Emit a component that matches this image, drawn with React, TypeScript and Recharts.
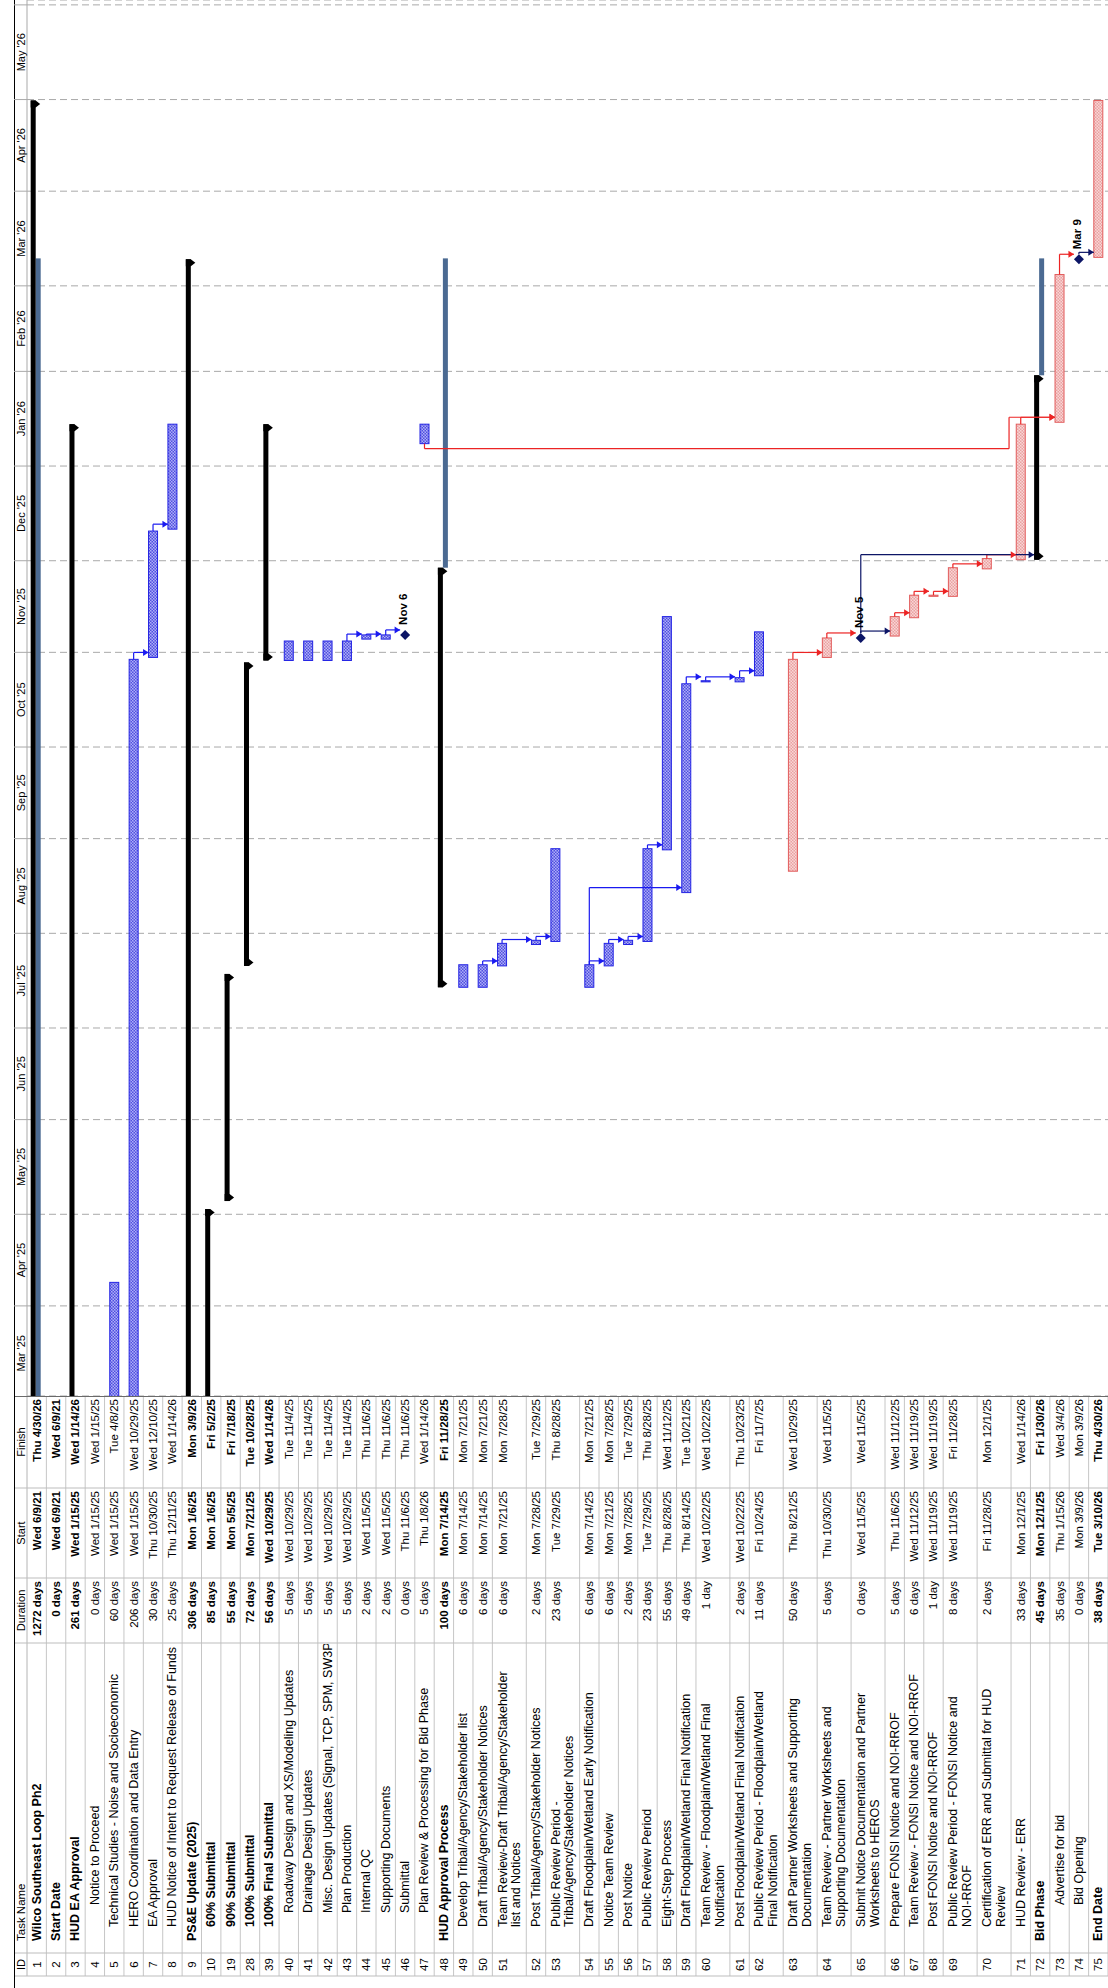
import React from "react";
import {
  ComposedChart,
  XAxis,
  YAxis,
  CartesianGrid,
  Scatter,
  ReferenceArea,
  ReferenceLine,
  ReferenceDot,
} from "recharts";

// ---- table rows (top to bottom) ----
const ROW_IDS = [
  1, 2, 3, 4, 5, 6, 7, 8, 9, 10, 19, 28, 39, 40, 41, 42, 43, 44, 45, 46, 47, 48,
  49, 50, 51, 52, 53, 54, 55, 56, 57, 58, 59, 60, 61, 62, 63, 64, 65, 66, 67, 68,
  69, 70, 71, 72, 73, 74, 75,
];

// "|" marks where the name wraps onto a second line
const TASK_NAMES = [
  "Wilco Southeast Loop Ph2",
  "Start Date",
  "HUD EA Approval",
  "Notice to Proceed",
  "Technical Studies - Noise and Socioeconomic",
  "HERO Coordination and Data Entry",
  "EA Approval",
  "HUD Notice of Intent to Request Release of Funds",
  "PS&E Update (2025)",
  "60% Submittal",
  "90% Submittal",
  "100% Submittal",
  "100% Final Submittal",
  "Roadway Design and XS/Modeling Updates",
  "Drainage Design Updates",
  "Misc. Design Updates (Signal, TCP, SPM, SW3P)",
  "Plan Production",
  "Internal QC",
  "Supporting Documents",
  "Submittal",
  "Plan Review & Processing for Bid Phase",
  "HUD Approval Process",
  "Develop Tribal/Agency/Stakeholder list",
  "Draft Tribal/Agency/Stakeholder Notices",
  "Team Review-Draft Tribal/Agency/Stakeholder|list and Notices",
  "Post Tribal/Agency/Stakeholder Notices",
  "Public Review Period -|Tribal/Agency/Stakeholder Notices",
  "Draft Floodplain/Wetland Early Notification",
  "Notice Team Review",
  "Post Notice",
  "Public Review Period",
  "Eight-Step Process",
  "Draft Floodplain/Wetland Final Notification",
  "Team Review - Floodplain/Wetland Final|Notification",
  "Post Floodplain/Wetland Final Notification",
  "Public Review Period - Floodplain/Wetland|Final Notification",
  "Draft Partner Worksheets and Supporting|Documentation",
  "Team Review - Partner Worksheets and|Supporting Documentation",
  "Submit Notice Documentation and Partner|Worksheets to HEROS",
  "Prepare FONSI Notice and NOI-RROF",
  "Team Review - FONSI Notice and NOI-RROF",
  "Post FONSI Notice and NOI-RROF",
  "Public Review Period - FONSI Notice and|NOI-RROF",
  "Certification of ERR and Submittal for HUD|Review",
  "HUD Review - ERR",
  "Bid Phase",
  "Advertise for bid",
  "Bid Opening",
  "End Date",
];

const DURATIONS = [
  "1272 days", "0 days", "261 days", "0 days", "60 days", "206 days", "30 days",
  "25 days", "306 days", "85 days", "55 days", "72 days", "56 days", "5 days",
  "5 days", "5 days", "5 days", "2 days", "2 days", "0 days", "5 days",
  "100 days", "6 days", "6 days", "6 days", "2 days", "23 days", "6 days",
  "6 days", "2 days", "23 days", "55 days", "49 days", "1 day", "2 days",
  "11 days", "50 days", "5 days", "0 days", "5 days", "6 days", "1 day",
  "8 days", "2 days", "33 days", "45 days", "35 days", "0 days", "38 days",
];

const STARTS = [
  "Wed 6/9/21", "Wed 6/9/21", "Wed 1/15/25", "Wed 1/15/25", "Wed 1/15/25",
  "Wed 1/15/25", "Thu 10/30/25", "Thu 12/11/25", "Mon 1/6/25", "Mon 1/6/25",
  "Mon 5/5/25", "Mon 7/21/25", "Wed 10/29/25", "Wed 10/29/25", "Wed 10/29/25",
  "Wed 10/29/25", "Wed 10/29/25", "Wed 11/5/25", "Wed 11/5/25", "Thu 11/6/25",
  "Thu 1/8/26", "Mon 7/14/25", "Mon 7/14/25", "Mon 7/14/25", "Mon 7/21/25",
  "Mon 7/28/25", "Tue 7/29/25", "Mon 7/14/25", "Mon 7/21/25", "Mon 7/28/25",
  "Tue 7/29/25", "Thu 8/28/25", "Thu 8/14/25", "Wed 10/22/25", "Wed 10/22/25",
  "Fri 10/24/25", "Thu 8/21/25", "Thu 10/30/25", "Wed 11/5/25", "Thu 11/6/25",
  "Wed 11/12/25", "Wed 11/19/25", "Wed 11/19/25", "Fri 11/28/25", "Mon 12/1/25",
  "Mon 12/1/25", "Thu 1/15/26", "Mon 3/9/26", "Tue 3/10/26",
];

const FINISHES = [
  "Thu 4/30/26", "Wed 6/9/21", "Wed 1/14/26", "Wed 1/15/25", "Tue 4/8/25",
  "Wed 10/29/25", "Wed 12/10/25", "Wed 1/14/26", "Mon 3/9/26", "Fri 5/2/25",
  "Fri 7/18/25", "Tue 10/28/25", "Wed 1/14/26", "Tue 11/4/25", "Tue 11/4/25",
  "Tue 11/4/25", "Tue 11/4/25", "Thu 11/6/25", "Thu 11/6/25", "Thu 11/6/25",
  "Wed 1/14/26", "Fri 11/28/25", "Mon 7/21/25", "Mon 7/21/25", "Mon 7/28/25",
  "Tue 7/29/25", "Thu 8/28/25", "Mon 7/21/25", "Mon 7/28/25", "Tue 7/29/25",
  "Thu 8/28/25", "Wed 11/12/25", "Tue 10/21/25", "Wed 10/22/25", "Thu 10/23/25",
  "Fri 11/7/25", "Wed 10/29/25", "Wed 11/5/25", "Wed 11/5/25", "Wed 11/12/25",
  "Wed 11/19/25", "Wed 11/19/25", "Fri 11/28/25", "Mon 12/1/25", "Wed 1/14/26",
  "Fri 1/30/26", "Wed 3/4/26", "Mon 3/9/26", "Thu 4/30/26",
];

const OUTLINE_LEVELS = [
  0, 0, 0, 1, 1, 1, 1, 1, 0, 1, 1, 1, 1, 2, 2, 2, 2, 2, 2, 2, 2, 0, 1, 1, 1, 1,
  1, 1, 1, 1, 1, 1, 1, 1, 1, 1, 1, 1, 1, 1, 1, 1, 1, 1, 1, 0, 1, 1, 0,
];
// rows whose names sit further in than their outline level
const EXTRA_INDENT_IDS = [4, 73, 74];

const SUMMARY_IDS = [1, 3, 9, 10, 19, 28, 39, 48, 72];
const MILESTONE_IDS = [2, 4, 46, 65, 74];
const CRITICAL_IDS = [63, 64, 66, 67, 68, 69, 70, 71, 73, 75];
const BOLD_IDS = [1, 2, 3, 9, 10, 19, 28, 39, 48, 72, 75];

// thin steel-blue bars drawn under three summaries
const BASELINE_IDS = [1, 48, 72];
const BASELINE_STARTS = ["Wed 6/9/21", "Fri 11/28/25", "Fri 1/30/26"];
const BASELINE_FINISH = "Mon 3/9/26";

const LABELED_MILESTONES = [46, 65, 74];
const MILESTONE_TEXT = ["Nov 6", "Nov 5", "Mar 9"];

const MONTH_LABELS = [
  "Mar '25", "Apr '25", "May '25", "Jun '25", "Jul '25", "Aug '25", "Sep '25",
  "Oct '25", "Nov '25", "Dec '25", "Jan '26", "Feb '26", "Mar '26", "Apr '26",
  "May '26",
];

// predecessor -> successor links
const BLUE_LINKS = [
  [6, 7], [7, 8], [43, 44], [44, 45], [45, 46], [50, 51], [51, 52], [52, 53],
  [54, 55], [55, 56], [56, 57], [57, 58], [54, 59], [59, 60], [60, 61], [61, 62],
];
const RED_LINKS = [
  [63, 64], [64, 65], [66, 67], [67, 68], [68, 69], [69, 70], [70, 71], [71, 73],
  [73, 74],
];
const NAVY_LINKS = [[65, 66], [65, 72], [74, 75]];
// the long red link leaves task 47 from its start and bends above task 71
const DETOUR_LINK = { from: 47, to: 73, bendRow: 71 };

// ---- layout ----
const FULL_W = 1988; // unrotated width
const FULL_H = 1108; // unrotated height
const TABLE_W = 592;
const TIME_W = FULL_W - TABLE_W;
const HEADER_TOP = 14;
const HEADER_H = 13;
const PLOT_TOP = HEADER_TOP + HEADER_H;
const FONT = "'Liberation Sans', Arial, sans-serif";
const NAME_FONT = 12.5;
const CELL_FONT = 11.5;

const COL_LEFT = 12;
const COL_ID = 35;
const COL_NAME = 345;
const COL_DUR = 410;
const COL_START = 500;
const NAME_X0 = 47;
const INDENT = 14;
const EXTRA_INDENT = 22;

const dayOf = (y: number, m: number, d: number) => Date.UTC(y, m - 1, d) / 86400000;
const parseDate = (s: string) => {
  const [m, d, y] = s.split(" ")[1].split("/").map(Number);
  return dayOf(2000 + y, m, d);
};

const DOMAIN_START = dayOf(2025, 3, 1) + 1.5;
const DOMAIN_END = dayOf(2026, 6, 1) + 1.6;
const PX_PER_DAY = TIME_W / (DOMAIN_END - DOMAIN_START);

const MONTH_STARTS = MONTH_LABELS.map((_, i) => dayOf(2025, 3 + i, 1)).concat([dayOf(2026, 6, 1)]);
const BOUNDARY_TICKS = MONTH_STARTS.slice(1);
const MID_TICKS = MONTH_LABELS.map((_, i) => (MONTH_STARTS[i] + MONTH_STARTS[i + 1]) / 2);

const LINES = TASK_NAMES.map((n) => n.split("|"));
const ROW_UNITS = LINES.map((l) => (l.length > 1 ? 1.75 : 1));
const ROW_TOPS: number[] = [];
let acc = 0;
ROW_UNITS.forEach((u) => {
  ROW_TOPS.push(acc);
  acc += u;
});
const TOTAL_UNITS = acc;
const PXU = (FULL_H - PLOT_TOP) / TOTAL_UNITS;
const px = (p: number) => p / PXU; // pixels -> row units
const rowMid = (i: number) => ROW_TOPS[i] + 0.5;
const idx = (id: number) => ROW_IDS.indexOf(id);

const barStart = (i: number) => parseDate(STARTS[i]) + 8 / 24;
const barEnd = (i: number) => parseDate(FINISHES[i]) + 17 / 24;
const dx = (p: number) => p / PX_PER_DAY; // pixels -> days

const BLUE = "#1a1af0";
const RED = "#ec2424";
const NAVY = "#0c1566";

// ---- shapes ----
const taskShape = (fill: string, stroke: string) => (p: any) => (
  <rect x={p.x} y={p.y} width={Math.max(p.width, 0.5)} height={p.height} fill={fill} stroke={stroke} strokeWidth={1} />
);

const summaryShape = (p: any) => {
  const { x, y, width: w, height: h } = p;
  const c = 7;
  const cap = (x0: number) =>
    `${x0},${y} ${x0 + c},${y} ${x0 + c},${y + h} ${x0 + c / 2},${y + h + 4.5} ${x0},${y + h}`;
  return (
    <g>
      <rect x={x} y={y} width={w} height={h} fill="#000" />
      <polygon points={cap(x)} fill="#000" />
      <polygon points={cap(x + w - c)} fill="#000" />
    </g>
  );
};

const baselineShape = (p: any) => <rect x={p.x} y={p.y} width={p.width} height={p.height} fill="#4b6a92" />;

const arrowShape = (color: string) => (p: any) => (
  <polygon points={`${p.cx - 3.5},${p.cy - 5.5} ${p.cx + 3.5},${p.cy - 5.5} ${p.cx},${p.cy}`} fill={color} />
);

const monthLabelShape = (text: string) => (p: any) => (
  <text x={p.cx} y={p.cy} textAnchor="middle" dominantBaseline="central" fontSize={11} fontFamily={FONT} fill="#000">
    {text}
  </text>
);

const diamondShape = (p: any) => {
  const { cx, cy, payload } = p;
  return (
    <g>
      <polygon points={`${cx},${cy - 5} ${cx + 5},${cy} ${cx},${cy + 5} ${cx - 5},${cy}`} fill={NAVY} />
      {payload.label ? (
        <text x={cx + 10} y={cy - 2} dominantBaseline="central" fontSize={11.5} fontWeight="bold" fontFamily={FONT} fill="#000">
          {payload.label}
        </text>
      ) : null}
    </g>
  );
};

// ---- link geometry, built from task dates and rows ----
type Pt = { x: number; y: number };
function succTop(s: number) {
  const is = idx(s);
  const sMile = MILESTONE_IDS.includes(s);
  const sSum = SUMMARY_IDS.includes(s);
  return rowMid(is) - px(sMile ? 5 : sSum ? 6 : 4.5);
}
function linkPath(p: number, s: number): Pt[] {
  const ip = idx(p);
  const is = idx(s);
  const pMile = MILESTONE_IDS.includes(p);
  const sMile = MILESTONE_IDS.includes(s);
  const pEnd = pMile ? barEnd(ip) + dx(5) : barEnd(ip);
  const sStart = sMile ? barEnd(is) : barStart(is);
  const ux = sStart + dx(5);
  const cp = rowMid(ip);
  const sTop = succTop(s);
  if (ux <= pEnd) return [{ x: ux, y: cp + px(4.5) }, { x: ux, y: sTop }];
  return [{ x: pEnd, y: cp }, { x: ux, y: cp }, { x: ux, y: sTop }];
}
function detourPath(): Pt[] {
  const ip = idx(DETOUR_LINK.from);
  const is = idx(DETOUR_LINK.to);
  const xa = barStart(ip);
  const xb = xa - dx(5);
  const bend = ROW_TOPS[idx(DETOUR_LINK.bendRow)] - px(2);
  const xc = barStart(is) + dx(5);
  const cp = rowMid(ip);
  return [
    { x: xa, y: cp },
    { x: xb, y: cp },
    { x: xb, y: bend },
    { x: xc, y: bend },
    { x: xc, y: succTop(DETOUR_LINK.to) },
  ];
}

function TaskTable() {
  const v = (u: number) => PLOT_TOP + u * PXU;
  const cols = [COL_LEFT, COL_ID, COL_NAME, COL_DUR, COL_START];
  const hy = HEADER_TOP + HEADER_H / 2;
  return (
    <svg width={TABLE_W} height={FULL_H} style={{ position: "absolute", left: 0, top: 0 }} fontFamily={FONT} fontSize={CELL_FONT}>
      <defs>
        <clipPath id="nameClip">
          <rect x={COL_ID} y={0} width={COL_NAME - COL_ID - 1} height={FULL_H} />
        </clipPath>
      </defs>
      <text x={(COL_LEFT + COL_ID) / 2} y={hy} textAnchor="middle" dominantBaseline="central" fontSize={11}>ID</text>
      <text x={NAME_X0} y={hy} dominantBaseline="central" fontSize={11.5}>Task Name</text>
      <text x={(COL_NAME + COL_DUR) / 2} y={hy} textAnchor="middle" dominantBaseline="central" fontSize={11}>Duration</text>
      <text x={(COL_DUR + COL_START) / 2} y={hy} textAnchor="middle" dominantBaseline="central" fontSize={11}>Start</text>
      <text x={(COL_START + TABLE_W) / 2} y={hy} textAnchor="middle" dominantBaseline="central" fontSize={11}>Finish</text>
      {ROW_IDS.map((id, i) => {
        const top = v(ROW_TOPS[i]);
        const y1 = top + PXU / 2 + (LINES[i].length > 1 ? 0.5 : 0);
        const bold = BOLD_IDS.includes(id) ? "bold" : "normal";
        const bottom = v(ROW_TOPS[i] + ROW_UNITS[i]);
        const nx = NAME_X0 + OUTLINE_LEVELS[i] * INDENT + (EXTRA_INDENT_IDS.includes(id) ? EXTRA_INDENT : 0);
        return (
          <g key={id} fontWeight={bold}>
            <line x1={COL_LEFT} x2={TABLE_W} y1={bottom} y2={bottom} stroke="#c6c6c6" />
            <text x={(COL_LEFT + COL_ID) / 2} y={y1} textAnchor="middle" dominantBaseline="central" fontWeight="normal">{id}</text>
            <g clipPath="url(#nameClip)" fontSize={NAME_FONT}>
              {LINES[i].map((t, k) => (
                <text key={k} x={nx} y={y1 + k * 13.6} dominantBaseline="central">{t}</text>
              ))}
            </g>
            <text x={COL_DUR - 3} y={y1} textAnchor="end" dominantBaseline="central">{DURATIONS[i]}</text>
            <text x={COL_START - 3} y={y1} textAnchor="end" dominantBaseline="central">{STARTS[i]}</text>
            <text x={TABLE_W - 3} y={y1} textAnchor="end" dominantBaseline="central">{FINISHES[i]}</text>
          </g>
        );
      })}
      <line x1={COL_LEFT} x2={TABLE_W} y1={PLOT_TOP} y2={PLOT_TOP} stroke="#b4b4b4" />
      {cols.map((c) => (
        <line key={c} x1={c} x2={c} y1={HEADER_TOP} y2={FULL_H} stroke="#bdbdbd" />
      ))}
      <line x1={TABLE_W - 0.5} x2={TABLE_W - 0.5} y1={HEADER_TOP} y2={FULL_H} stroke="#6a6a6a" strokeWidth={1.2} />
    </svg>
  );
}

export default function App() {
  const bars: React.ReactNode[] = [];
  ROW_IDS.forEach((id, i) => {
    if (MILESTONE_IDS.includes(id)) return;
    const c = rowMid(i);
    const x1 = barStart(i);
    const x2 = barEnd(i);
    const b = BASELINE_IDS.indexOf(id);
    if (b >= 0) {
      bars.push(
        <ReferenceArea
          key={`b${id}`}
          x1={parseDate(BASELINE_STARTS[b]) + 17 / 24}
          x2={parseDate(BASELINE_FINISH) + 1}
          y1={c - px(1)}
          y2={c + px(4)}
          ifOverflow="hidden"
          shape={baselineShape}
        />
      );
    }
    if (SUMMARY_IDS.includes(id)) {
      bars.push(
        <ReferenceArea key={`s${id}`} x1={x1} x2={x2} y1={c - px(6)} y2={c - px(1)} ifOverflow="hidden" shape={summaryShape} />
      );
    } else {
      const crit = CRITICAL_IDS.includes(id);
      bars.push(
        <ReferenceArea
          key={`t${id}`}
          x1={x1}
          x2={x2}
          y1={c - px(4.5)}
          y2={c + px(4.5)}
          ifOverflow="hidden"
          shape={crit ? taskShape("url(#hatchRed)", "#e25c5c") : taskShape("url(#hatchBlue)", "#2424e4")}
        />
      );
    }
  });

  const links: React.ReactNode[] = [];
  const drawPath = (key: string, pts: Pt[], color: string) => {
    for (let k = 0; k < pts.length - 1; k++) {
      links.push(
        <ReferenceLine
          key={`${key}-${k}`}
          segment={[pts[k], pts[k + 1]]}
          stroke={color}
          strokeWidth={1.2}
          ifOverflow="visible"
        />
      );
    }
    const tip = pts[pts.length - 1];
    links.push(<ReferenceDot key={`${key}-a`} x={tip.x} y={tip.y} r={3} ifOverflow="visible" shape={arrowShape(color)} />);
  };
  BLUE_LINKS.forEach(([p, s]) => drawPath(`b${p}-${s}`, linkPath(p, s), BLUE));
  RED_LINKS.forEach(([p, s]) => drawPath(`r${p}-${s}`, linkPath(p, s), RED));
  NAVY_LINKS.forEach(([p, s]) => drawPath(`n${p}-${s}`, linkPath(p, s), NAVY));
  drawPath("detour", detourPath(), RED);

  const milestones = MILESTONE_IDS.map((id) => {
    const i = idx(id);
    const k = LABELED_MILESTONES.indexOf(id);
    return { x: barEnd(i), y: rowMid(i), label: k >= 0 ? MILESTONE_TEXT[k] : "" };
  }).filter((m) => m.x >= DOMAIN_START && m.x <= DOMAIN_END);

  return (
    <div style={{ position: "relative", width: FULL_H, height: FULL_W, overflow: "hidden", background: "#fff" }}>
      <style>{"body{margin:0;background:#fff}"}</style>
      <div
        style={{
          position: "absolute",
          left: 0,
          top: 0,
          width: FULL_W,
          height: FULL_H,
          transformOrigin: "0 0",
          transform: `translate(0px, ${FULL_W}px) rotate(-90deg)`,
          background: "#fff",
        }}
      >
        <svg width={0} height={0} style={{ position: "absolute" }}>
          <defs>
            <pattern id="hatchBlue" width={3} height={3} patternUnits="userSpaceOnUse">
              <rect width={3} height={3} fill="#aeaef8" />
              <rect width={1.5} height={1.5} fill="#5050de" />
              <rect x={1.5} y={1.5} width={1.5} height={1.5} fill="#5050de" />
            </pattern>
            <pattern id="hatchRed" width={3} height={3} patternUnits="userSpaceOnUse">
              <rect width={3} height={3} fill="#f9d6d6" />
              <rect width={1.5} height={1.5} fill="#e9a2a2" />
              <rect x={1.5} y={1.5} width={1.5} height={1.5} fill="#e9a2a2" />
            </pattern>
          </defs>
        </svg>
        <TaskTable />
        <div style={{ position: "absolute", left: 0, top: HEADER_TOP, width: FULL_W, height: 1, background: "#000" }} />
        <div style={{ position: "absolute", left: TABLE_W, top: 0 }}>
          <ComposedChart
            width={TIME_W}
            height={FULL_H}
            data={milestones}
            margin={{ top: HEADER_TOP, right: 0, bottom: 0, left: 0 }}
          >
            <CartesianGrid horizontal={false} stroke="#a9a9a9" strokeDasharray="7 4" />
            <XAxis
              dataKey="x"
              type="number"
              orientation="top"
              domain={[DOMAIN_START, DOMAIN_END]}
              allowDataOverflow
              ticks={BOUNDARY_TICKS}
              interval={0}
              height={HEADER_H}
              tickSize={HEADER_H}
              tickLine={{ stroke: "#a9a9a9" }}
              axisLine={{ stroke: "#a9a9a9" }}
              tick={() => <g />}
            />
            <YAxis dataKey="y" type="number" domain={[0, TOTAL_UNITS]} reversed hide allowDataOverflow />
            {MONTH_LABELS.map((m, i) => (
              <ReferenceDot
                key={m}
                x={MID_TICKS[i]}
                y={-px(HEADER_H / 2)}
                r={1}
                ifOverflow="visible"
                shape={monthLabelShape(m)}
              />
            ))}
            {bars}
            {links}
            <Scatter data={milestones} dataKey="y" isAnimationActive={false} shape={diamondShape} />
          </ComposedChart>
        </div>
      </div>
    </div>
  );
}
